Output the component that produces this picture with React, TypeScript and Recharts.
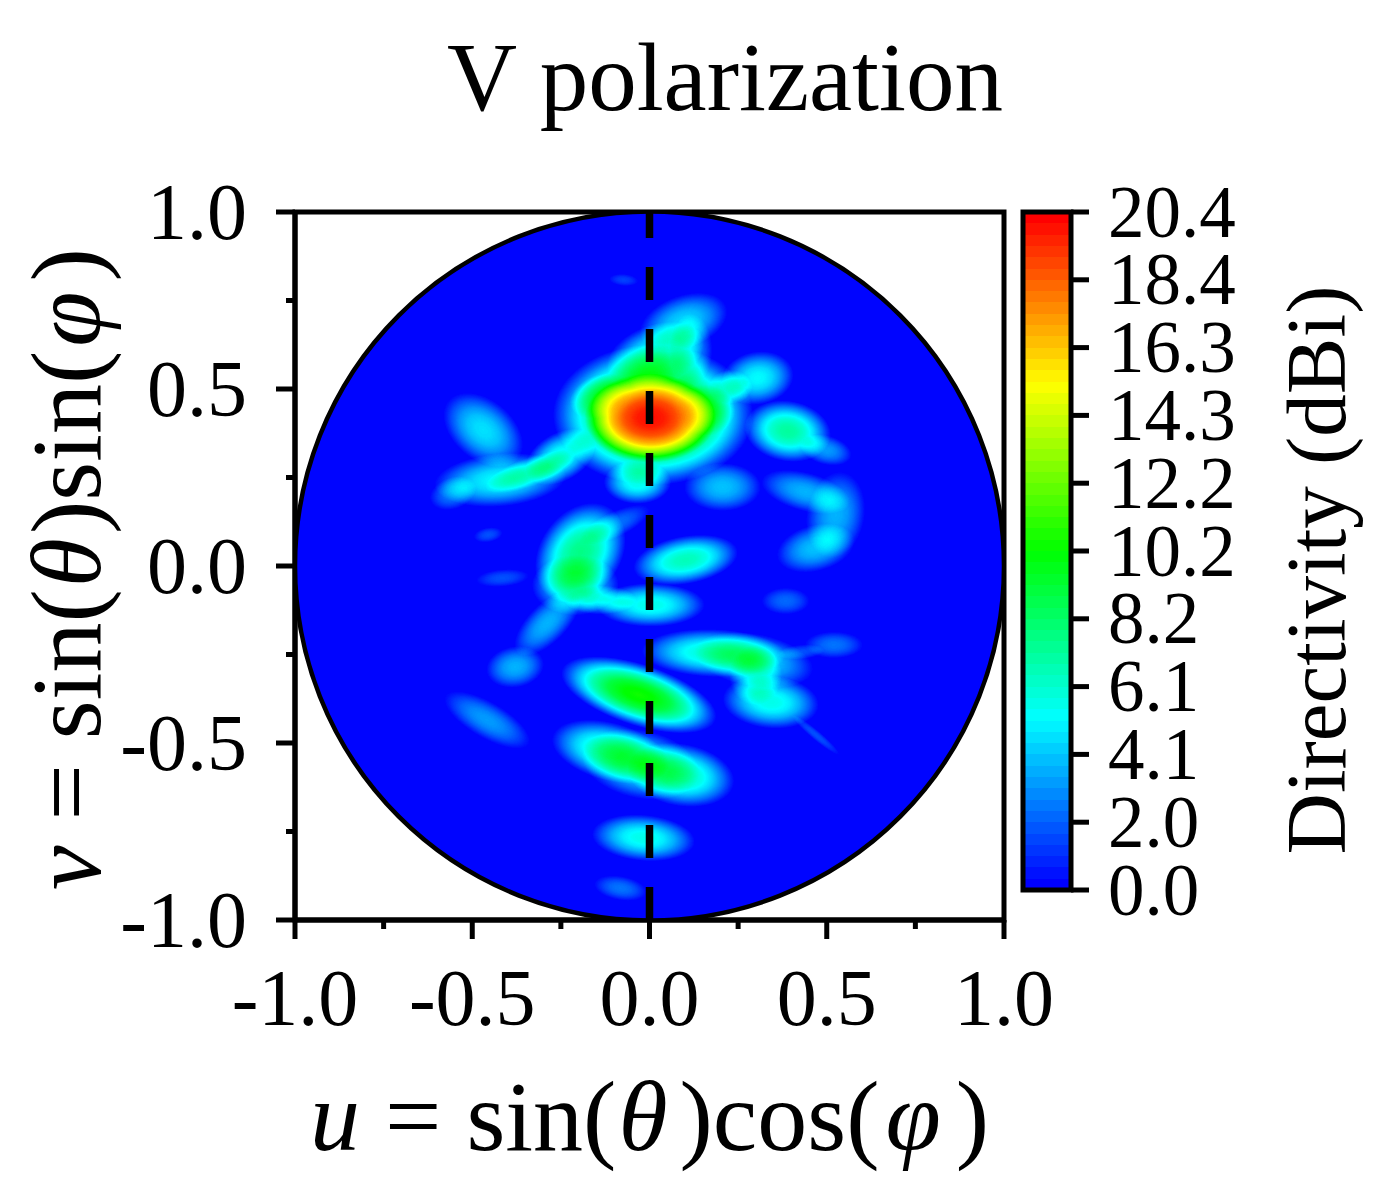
import React from 'react';
import { ScatterChart, Scatter, XAxis, YAxis, ReferenceArea, BarChart, Bar } from 'recharts';

const SERIF = '"Liberation Serif", "Times New Roman", serif';
const W = 1380;
const H = 1200;
const MAX_DBI = 20.4;

// Lobes of the directivity pattern (direction cosines, dBi)
const lobeU = [0.01, 0.003, 0.017, 0.096, 0.116, 0.305, 0.229, 0.39, 0.497, -0.469, -0.421, -0.554, -0.251, -0.336, -0.034, 0.206, 0.441, 0.525, 0.469, -0.195, -0.1, -0.209, -0.455, -0.415, -0.073, 0.102, 0.003, -0.138, -0.288, -0.379, 0.384, 0.181, 0.294, 0.52, 0.427, 0.342, 0.299, 0.469, -0.03, -0.11, 0.088, -0.458, -0.017, -0.082, -0.025, -0.138, 0.158];
const lobeV = [0.427, 0.418, 0.596, 0.689, 0.61, 0.531, 0.506, 0.381, 0.328, 0.384, 0.243, 0.206, 0.308, 0.266, 0.237, 0.223, 0.209, 0.144, 0.051, 0.037, 0.116, -0.054, 0.088, -0.034, 0.808, 0.017, -0.11, -0.096, -0.161, -0.285, -0.099, -0.246, -0.266, -0.223, -0.243, -0.384, -0.308, -0.477, -0.364, -0.525, -0.59, -0.435, -0.768, -0.91, -0.56, 0.48, 0.44];
const lobeSpreadU = [0.235, 0.155, 0.119, 0.107, 0.051, 0.085, 0.051, 0.102, 0.062, 0.107, 0.155, 0.056, 0.09, 0.113, 0.079, 0.09, 0.107, 0.068, 0.093, 0.127, 0.09, 0.102, 0.034, 0.062, 0.034, 0.124, 0.127, 0.085, 0.1, 0.068, 0.056, 0.169, 0.141, 0.068, 0.056, 0.113, 0.062, 0.071, 0.19, 0.141, 0.127, 0.113, 0.121, 0.062, 0.14, 0.075, 0.07];
const lobeSpreadV = [0.165, 0.105, 0.071, 0.062, 0.085, 0.062, 0.04, 0.071, 0.034, 0.07, 0.062, 0.037, 0.056, 0.034, 0.051, 0.056, 0.045, 0.102, 0.054, 0.095, 0.03, 0.071, 0.017, 0.02, 0.014, 0.056, 0.051, 0.034, 0.045, 0.048, 0.031, 0.056, 0.062, 0.031, 0.017, 0.062, 0.071, 0.011, 0.072, 0.068, 0.073, 0.042, 0.054, 0.028, 0.08, 0.05, 0.06];
const lobeTilt = [0, 0, -20, -20, 0, -10, 0, 10, 15, 40, -5, -20, -30, -20, 0, 0, 15, 10, -15, -55, -25, 0, -10, -5, 5, -10, 0, 0, -45, -10, 0, 2, 10, 0, -5, 5, 0, 40, 18, 15, 10, 30, 5, 10, 12, -20, 0];
const lobePeak = [12, 20, 5.5, 4.2, 3, 5, 3, 7, 3, 4.5, 5, 2.5, 5.5, 3, 5.5, 3.8, 3.5, 3.5, 3.8, 7.5, 2.2, 5, 1.5, 1.5, 1.2, 6.5, 5.5, 3.5, 3.5, 3.5, 2, 6, 4.5, 2.2, 1.5, 5.5, 3.5, 1.5, 10.5, 6.5, 6.5, 3, 5.5, 2.2, 5, 4, 4];

const axisTicks = [-1, -0.75, -0.5, -0.25, 0, 0.25, 0.5, 0.75, 1];
const colorTicks = [0, 2.04, 4.08, 6.12, 8.16, 10.2, 12.24, 14.28, 16.32, 18.36, 20.4];
const colorSteps = [0.34, 0.34, 0.34, 0.34, 0.34, 0.34, 0.34, 0.34, 0.34, 0.34, 0.34, 0.34, 0.34, 0.34, 0.34, 0.34, 0.34, 0.34, 0.34, 0.34, 0.34, 0.34, 0.34, 0.34, 0.34, 0.34, 0.34, 0.34, 0.34, 0.34, 0.34, 0.34, 0.34, 0.34, 0.34, 0.34, 0.34, 0.34, 0.34, 0.34, 0.34, 0.34, 0.34, 0.34, 0.34, 0.34, 0.34, 0.34, 0.34, 0.34, 0.34, 0.34, 0.34, 0.34, 0.34, 0.34, 0.34, 0.34, 0.34, 0.34];
const cutLineU = [0, 0];
const cutLineV = [-1, 1];

const domePoint = [{ u: 0, v: 0, su: 1, sv: 1, tilt: 0, peak: 0, dome: true }];
const lobes = lobeU.map((u, i) => ({ u, v: lobeV[i], su: lobeSpreadU[i], sv: lobeSpreadV[i], tilt: lobeTilt[i], peak: lobePeak[i], dome: false }));
const heatData = [...domePoint, ...lobes];
const cutLine = cutLineU.map((u, i) => ({ u, v: cutLineV[i] }));
const colorRow = [colorSteps.reduce((row: any, s, i) => { row['s' + i] = s; return row; }, { name: 'dBi' })];

const PX_PER_UNIT = 354.5;
const LOBE_SCALE = 1.2;

function jet(t: number) {
  const stops = [[0, 0, 255], [0, 255, 255], [0, 255, 0], [255, 255, 0], [255, 0, 0]];
  const p = Math.min(0.9999, Math.max(0, t)) * 4;
  const k = Math.floor(p);
  const f = p - k;
  const c = stops[k].map((a, j) => Math.round(a + (stops[k + 1][j] - a) * f));
  return `rgb(${c[0]},${c[1]},${c[2]})`;
}

const LobeShape = (props: any) => {
  const { cx, cy, payload } = props;
  const d = payload;
  if (d.dome) {
    return <circle cx={cx} cy={cy} r={PX_PER_UNIT} fill="#fff" fillOpacity={0.0045} />;
  }
  return (
    <ellipse
      cx={cx}
      cy={cy}
      rx={d.su * PX_PER_UNIT * LOBE_SCALE}
      ry={d.sv * PX_PER_UNIT * LOBE_SCALE}
      transform={`rotate(${d.tilt} ${cx} ${cy})`}
      fill="url(#lobeProfile)"
      fillOpacity={d.peak / MAX_DBI}
    />
  );
};

const RimShape = (props: any) => (
  <circle cx={props.cx} cy={props.cy} r={PX_PER_UNIT} fill="none" stroke="#000" strokeWidth={4.5} />
);

const NoShape = () => null;

const XTick = (props: any) => {
  const { x, y, payload } = props;
  const major = Math.abs(payload.value * 2) % 1 === 0;
  return (
    <g>
      <line x1={x} x2={x} y1={y} y2={y + (major ? 19 : 9)} stroke="#000" strokeWidth={5} />
      {major && (
        <text x={x} y={y + 105} textAnchor="middle" fontFamily={SERIF} fontSize={80} fill="#000">
          {payload.value.toFixed(1)}
        </text>
      )}
    </g>
  );
};

const YTick = (props: any) => {
  const { x, y, payload } = props;
  const major = Math.abs(payload.value * 2) % 1 === 0;
  return (
    <g>
      <line x1={x} x2={x - (major ? 19 : 9)} y1={y} y2={y} stroke="#000" strokeWidth={5} />
      {major && (
        <text x={x - 48} y={y + 27} textAnchor="end" fontFamily={SERIF} fontSize={80} fill="#000">
          {payload.value.toFixed(1)}
        </text>
      )}
    </g>
  );
};

const ColorTick = (props: any) => {
  const { x, y, payload } = props;
  return (
    <g>
      <line x1={x} x2={x + 18} y1={y} y2={y} stroke="#000" strokeWidth={5} />
      <text x={x + 37} y={y + 24.5} textAnchor="start" fontFamily={SERIF} fontSize={73} fill="#000">
        {payload.value.toFixed(1)}
      </text>
    </g>
  );
};

const XTitle = () => (
  <text x={310} y={1150} textAnchor="start" fontFamily={SERIF} fontSize={100} fill="#000">
    <tspan fontStyle="italic">u</tspan> = sin(<tspan dx={2} fontStyle="italic">θ</tspan><tspan dx={12}>)cos(</tspan>
    <tspan dx={6} fontStyle="italic">φ</tspan><tspan dx={15}>)</tspan>
  </text>
);

const YTitle = () => (
  <text transform="rotate(-90 100 890)" x={100} y={890} textAnchor="start" fontFamily={SERIF} fontSize={100} fill="#000">
    <tspan fontStyle="italic">v</tspan> = sin(<tspan fontStyle="italic" dx={2}>θ</tspan><tspan dx={4}>)sin(</tspan><tspan fontStyle="italic" dx={4}>φ</tspan><tspan dx={10}>)</tspan>
  </text>
);

const PageTitle = () => (
  <text x={725} y={110} textAnchor="middle" fontFamily={SERIF} fontSize={97} fill="#000">
    V polarization
  </text>
);

const BarTitle = () => (
  <text transform="rotate(-90 1345 570)" x={1345} y={570} textAnchor="middle" fontFamily={SERIF} fontSize={85} fill="#000">
    Directivity (dBi)
  </text>
);

export default function App() {
  return (
    <div style={{ position: 'absolute', left: 0, top: 0, width: W, height: H, background: '#fff' }}>
      <style>{`.heat-layer{filter:url(#jetMap)}`}</style>
      <svg width={0} height={0} style={{ position: 'absolute' }}>
        <defs>
          <radialGradient id="lobeProfile">
            <stop offset="0" stopColor="#fff" stopOpacity={1} />
            <stop offset="0.2" stopColor="#fff" stopOpacity={0.96} />
            <stop offset="0.4" stopColor="#fff" stopOpacity={0.84} />
            <stop offset="0.6" stopColor="#fff" stopOpacity={0.62} />
            <stop offset="0.8" stopColor="#fff" stopOpacity={0.32} />
            <stop offset="0.9" stopColor="#fff" stopOpacity={0.15} />
            <stop offset="1" stopColor="#fff" stopOpacity={0} />
          </radialGradient>
          <filter id="jetMap" x="-5%" y="-5%" width="110%" height="110%" colorInterpolationFilters="sRGB">
            <feColorMatrix in="SourceGraphic" type="matrix" values="0 0 0 1 0  0 0 0 1 0  0 0 0 1 0  0 0 0 0 1" result="lvl" />
            <feComponentTransfer in="lvl" result="col">
              <feFuncR type="table" tableValues="0 0 0 1 1" />
              <feFuncG type="table" tableValues="0 1 1 1 0" />
              <feFuncB type="table" tableValues="1 1 0 0 0" />
            </feComponentTransfer>
            <feComponentTransfer in="SourceAlpha" result="mask">
              <feFuncA type="linear" slope={300} />
            </feComponentTransfer>
            <feComposite in="col" in2="mask" operator="in" />
          </filter>
        </defs>
      </svg>

      <div style={{ position: 'absolute', left: 0, top: 0 }}>
        <ScatterChart width={W} height={H} margin={{ left: 175, right: 376, top: 212, bottom: 170 }}>
          <XAxis
            type="number"
            dataKey="u"
            domain={[-1, 1]}
            ticks={axisTicks}
            interval={0}
            allowDataOverflow
            height={110}
            tickLine={false}
            tickSize={0}
            tickMargin={0}
            axisLine={{ stroke: '#000', strokeWidth: 5 }}
            tick={XTick}
            label={{ content: XTitle }}
          />
          <YAxis
            type="number"
            dataKey="v"
            domain={[-1, 1]}
            ticks={axisTicks}
            interval={0}
            allowDataOverflow
            width={120}
            tickLine={false}
            tickSize={0}
            tickMargin={0}
            axisLine={{ stroke: '#000', strokeWidth: 5 }}
            tick={YTick}
            label={{ content: YTitle }}
          />
          <Scatter className="heat-layer" data={heatData} shape={LobeShape} isAnimationActive={false} />
          <Scatter data={domePoint} shape={RimShape} isAnimationActive={false} />
          <Scatter
            data={cutLine}
            shape={NoShape}
            line={{ stroke: '#000', strokeWidth: 7.5, strokeDasharray: '33 29' }}
            isAnimationActive={false}
          />
          <ReferenceArea x1={-1} x2={1} y1={-1} y2={1} fill="none" stroke="#000" strokeWidth={5} label={{ content: PageTitle }} />
        </ScatterChart>
      </div>

      <div style={{ position: 'absolute', left: 0, top: 0 }}>
        <BarChart
          width={W}
          height={H}
          data={colorRow}
          barCategoryGap={0}
          margin={{ left: 1023, right: 309, top: 212, bottom: 310 }}
        >
          <XAxis dataKey="name" hide />
          <YAxis type="number" domain={[0, MAX_DBI]} allowDataOverflow hide />
          {colorSteps.map((s, i) => (
            <Bar
              key={i}
              dataKey={'s' + i}
              stackId="c"
              fill={jet(i / (colorSteps.length - 1))}
              shapeRendering="crispEdges"
              isAnimationActive={false}
            />
          ))}
        </BarChart>
      </div>

      <div style={{ position: 'absolute', left: 0, top: 0 }}>
        <BarChart
          width={W}
          height={H}
          data={colorRow}
          margin={{ left: 1023, right: 129, top: 212, bottom: 310 }}
        >
          <XAxis dataKey="name" hide />
          <YAxis
            orientation="right"
            type="number"
            domain={[0, MAX_DBI]}
            ticks={colorTicks}
            interval={0}
            allowDataOverflow
            width={180}
            tickLine={false}
            tickSize={0}
            tickMargin={0}
            axisLine={false}
            tick={ColorTick}
            label={{ content: BarTitle }}
          />
          <ReferenceArea y1={0} y2={MAX_DBI} fill="none" stroke="#000" strokeWidth={5} />
        </BarChart>
      </div>
    </div>
  );
}
